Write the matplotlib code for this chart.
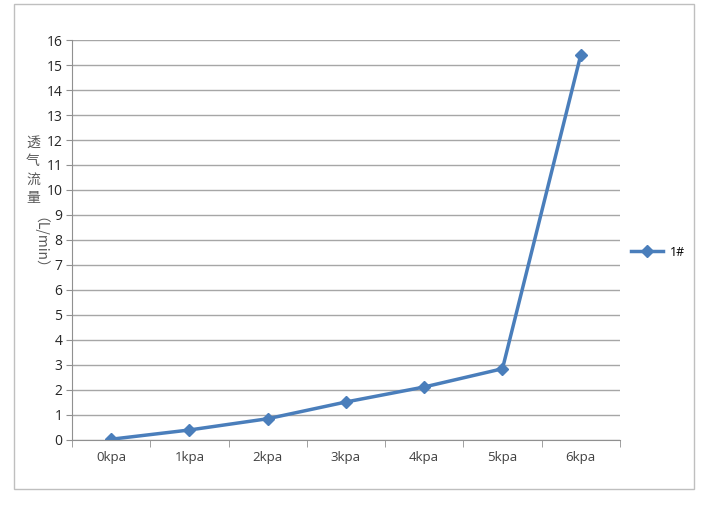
import matplotlib
matplotlib.use('Agg')
import matplotlib.pyplot as plt
from matplotlib.patches import Rectangle

plt.rcParams['font.family'] = ['Open Sans', 'Noto Sans CJK SC', 'DejaVu Sans']

# 透气流量数据
pressure = ['0kpa', '1kpa', '2kpa', '3kpa', '4kpa', '5kpa', '6kpa']
flow = [0.03, 0.4, 0.85, 1.52, 2.12, 2.85, 15.4]
series_name = '1#'
ylabel_chars = ['透', '气', '流', '量']
ylabel_unit = '（L/min）'

fig = plt.figure(figsize=(7.06, 5.09), dpi=100)
ax = fig.add_axes([0.102, 0.1356, 0.776, 0.7858])

x = list(range(len(pressure)))
ax.plot(x, flow, c='#4A7EBB', ls='-', marker='D', ms=6, lw=2.5, label=series_name)

ax.set_xlim(-0.5, len(pressure) - 0.5)
ax.set_ylim(0, 16)
ax.set_yticks(range(0, 17))
ax.set_xticks(x)
ax.set_xticklabels(pressure)
ax.set_xticks([i - 0.5 for i in range(len(pressure) + 1)], minor=True)
ax.tick_params(axis='x', which='major', length=0, labelsize=9.5, pad=8, colors='#404040')
ax.tick_params(axis='x', which='minor', length=5, color='#909090', direction='out')
ax.tick_params(axis='y', length=4, color='#909090', labelsize=10, colors='#262626', pad=3)

ax.grid(axis='y', color='#A6A6A6', lw=1)
ax.set_axisbelow(True)
for s in ['top', 'right']:
    ax.spines[s].set_visible(False)
ax.spines['left'].set_color('#909090')
ax.spines['bottom'].set_color('#909090')

# 纵轴标题（竖排）
for i, ch in enumerate(ylabel_chars):
    fig.text(33 / 706, 1 - (143 + 18.3 * i) / 509, ch, ha='center', va='center', fontsize=10,
             color='#595959', family=['Noto Sans CJK SC'])
fig.text(33 / 706, 1 - 250 / 509, ylabel_unit, ha='center', va='center', fontsize=10,
         color='#595959', rotation=-90, family=['Noto Sans CJK SC', 'DejaVu Sans'])

leg = fig.legend(loc='center left', bbox_to_anchor=(620 / 706, 1 - 252 / 509), frameon=False,
                 fontsize=9, handlelength=2.5, handletextpad=0.6)

fig.patches.append(Rectangle((14 / 706, 1 - 489 / 509), 680 / 706, 485 / 509,
                             transform=fig.transFigure, fill=False, ec='#BFBFBF', lw=1))

plt.savefig('out.png', dpi=100)
